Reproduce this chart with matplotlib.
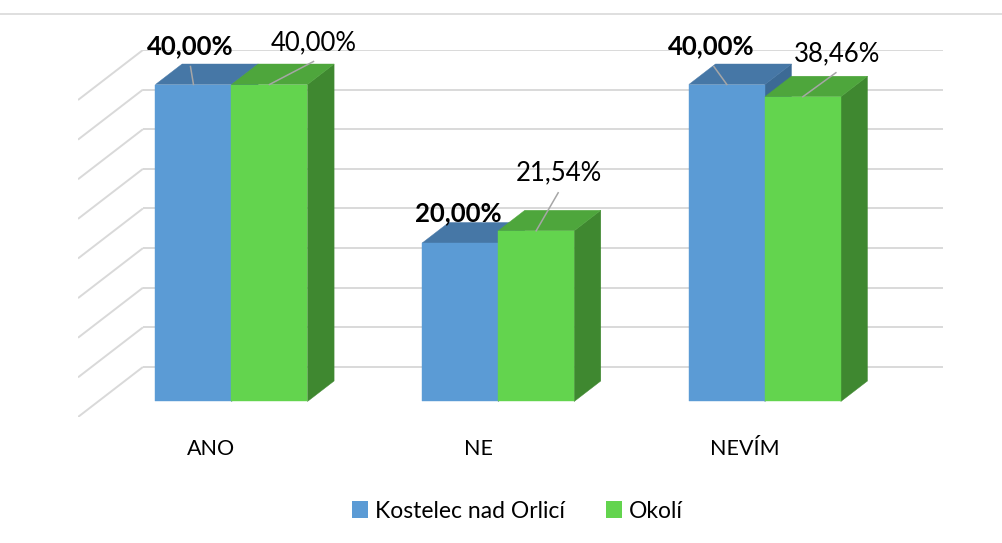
import matplotlib
matplotlib.use("Agg")
import matplotlib.pyplot as plt
from matplotlib.patches import Polygon, Patch
from matplotlib.lines import Line2D

# ---- data ----
categories = ["ANO", "NE", "NEVÍM"]
series_names = ["Kostelec nad Orlicí", "Okolí"]
kostelec = [40.00, 20.00, 40.00]
okoli = [40.00, 21.54, 38.46]
y_ticks = [0, 5, 10, 15, 20, 25, 30, 35, 40]

# ---- style ----
plt.rcParams['font.family'] = ['Lato', 'DejaVu Sans']
W, H = 1003, 543
fig = plt.figure(figsize=(W / 100, H / 100), dpi=100)

# oblique 3D projection parameters (data units)
DX, DY = 0.2434, 6.31      # full depth offset (back wall)
Z1, Z2 = 0.31, 0.72        # bar front / back depth
BW = 0.285                 # bar width
YMAX = 40

left_px, right_px, bot_px, top_px = 78, 943, 417, 50
ax = fig.add_axes([left_px / W, 1 - bot_px / H, (right_px - left_px) / W, (bot_px - top_px) / H])
ax.set_xlim(0, len(categories) + DX)
ax.set_ylim(0, YMAX + DY)
ax.axis('off')

grid_c = '#d9d9d9'
ncat = len(categories)
for v in y_ticks:
    # back wall
    ax.plot([DX, ncat + DX], [v + DY, v + DY], color=grid_c, lw=1.4, zorder=1, solid_capstyle='butt')
    # side wall
    ax.plot([0, DX], [v, v + DY], color=grid_c, lw=1.4, zorder=1, solid_capstyle='butt')

colors = [
    dict(front='#5b9bd5', top='#4677a6', side='#3c6a95'),
    dict(front='#63d44e', top='#4ea63c', side='#3f8830'),
]

def bar3d(x0, h, c, z):
    fx, fy = Z1 * DX, Z1 * DY
    bx, by = Z2 * DX, Z2 * DY
    x1 = x0 + BW
    front = [(x0 + fx, fy), (x1 + fx, fy), (x1 + fx, h + fy), (x0 + fx, h + fy)]
    top = [(x0 + fx, h + fy), (x1 + fx, h + fy), (x1 + bx, h + by), (x0 + bx, h + by)]
    side = [(x1 + fx, fy), (x1 + bx, by), (x1 + bx, h + by), (x1 + fx, h + fy)]
    for poly, col in ((side, c['side']), (top, c['top']), (front, c['front'])):
        ax.add_patch(Polygon(poly, closed=True, facecolor=col, edgecolor=col, lw=0.3, zorder=z))
    return ((x0 + x1) / 2 + fx, h + fy)

# label offsets in pixels (text center, leader end) relative to bar front-top center
blue_off = [((-3, 38), (-3, 18)), ((-2, 30), None), ((-16, 38), (-13, 18))]
green_off = [((44, 42), (44, 23)), ((23, 58), (22, 38)), ((34, 43), (33, 24))]

def fmt(v):
    return f"{v:.2f}%".replace('.', ',')

z = 3
for i in range(ncat):
    g0 = i + 0.5 - BW
    a1 = bar3d(g0, kostelec[i], colors[0], z)
    a2 = bar3d(g0 + BW, okoli[i], colors[1], z + 1)
    z += 2
    for anchor, val, off, bold in ((a1, kostelec[i], blue_off[i], True), (a2, okoli[i], green_off[i], False)):
        (tx, ty), lead = off
        if lead is not None:
            p0 = ax.transData.transform(anchor)
            p1 = (p0[0] + lead[0], p0[1] + lead[1])
            inv = ax.transData.inverted()
            q1 = inv.transform(p1)
            ax.add_line(Line2D([anchor[0], q1[0]], [anchor[1], q1[1]], color='#a6a6a6', lw=1.1, zorder=20))
        ax.annotate(fmt(val), xy=anchor, xytext=(tx, ty), textcoords='offset pixels',
                    ha='center', va='center', fontsize=18.5, color='black',
                    fontweight='bold' if bold else 'normal', zorder=30, annotation_clip=False)

# category labels at front plane
for i, c in enumerate(categories):
    ax.text(i + 0.5, -4.0, c, ha='center', va='center', fontsize=15.5, color='black')

# legend
handles = [Patch(facecolor=colors[0]['front'], edgecolor='none'),
           Patch(facecolor=colors[1]['front'], edgecolor='none')]
fig.legend(handles, series_names, loc='center', bbox_to_anchor=(517 / W, 1 - 511 / H), ncol=2,
           frameon=False, fontsize=16.5, handlelength=0.7, handleheight=0.7, handletextpad=0.3,
           columnspacing=1.8)

# chart border (top line)
fig.add_artist(Line2D([0, 1], [1 - 14 / H, 1 - 14 / H], color='#d9d9d9', lw=1.2, transform=fig.transFigure))

fig.savefig('out.png', dpi=100)
